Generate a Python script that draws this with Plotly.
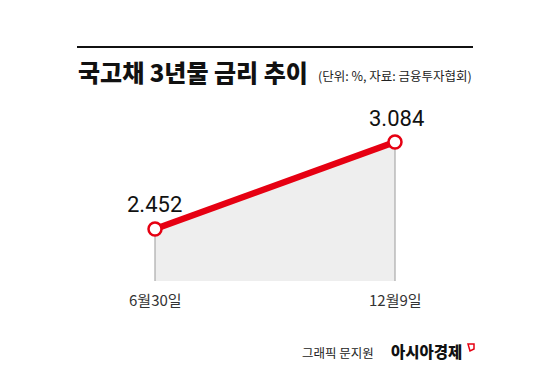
import plotly.graph_objects as go

dates = ["6월30일", "12월9일"]
rates = [2.452, 3.084]
value_labels = ["2.452", "3.084"]

title_text = "국고채 3년물 금리 추이"
subtitle_text = "(단위: %, 자료: 금융투자협회)"
credit_text = "그래픽 문지원"
brand_text = "아시아경제"

RED = "#e60012"
W, H = 550, 389
# plot area in pixels
L, R, T, B = 77, 473, 100, 281

xs = list(range(len(dates)))

x_per = (395 - 155) / (xs[1] - xs[0])
xmin = xs[0] - (155 - L) / x_per
xmax = xs[1] + (R - 395) / x_per
y_per = (229 - 142) / (rates[1] - rates[0])
ymin = rates[0] - (B - 229) / y_per
ymax = rates[0] + (229 - T) / y_per


def px(x, y):
    """pixel position -> paper coordinates"""
    return (x - L) / (R - L), (B - y) / (B - T)


fig = go.Figure()
# filled area
fig.add_trace(go.Scatter(
    x=xs, y=rates, mode="lines", fill="tozeroy",
    fillcolor="#eeeeee", line=dict(color="rgba(0,0,0,0)", width=0),
    hoverinfo="skip", showlegend=False))
# vertical drop lines
fig.add_trace(go.Scatter(
    x=xs, y=rates, mode="markers",
    marker=dict(size=1, color="rgba(0,0,0,0)"),
    error_y=dict(type="data", symmetric=False, array=[0] * len(rates),
                 arrayminus=[r - ymin for r in rates],
                 color="#aaaaaa", thickness=1.2, width=0),
    hoverinfo="skip", showlegend=False))
# red line with markers
fig.add_trace(go.Scatter(
    x=xs, y=rates, mode="lines+markers",
    line=dict(color=RED, width=6.5),
    marker=dict(size=13, color="white", line=dict(color=RED, width=2.5)),
    showlegend=False))

num_font = dict(family="Liberation Sans Narrow, Roboto, Arial", size=22, color="#111111")
fig.add_annotation(x=xs[0], y=rates[0], text=value_labels[0], showarrow=False,
                   xanchor="center", yanchor="bottom", xshift=-1, yshift=10, font=num_font)
fig.add_annotation(x=xs[1], y=rates[1], text=value_labels[1], showarrow=False,
                   xanchor="center", yanchor="bottom", xshift=1, yshift=9, font=num_font)

for xi, d in zip(xs, dates):
    fig.add_annotation(x=xi, y=0, yref="paper", text=d, showarrow=False,
                       xanchor="center", yanchor="top", yshift=-6,
                       font=dict(family="Noto Sans CJK KR", size=15, color="#333333"))

x0, y0 = px(77, 47)
x1, _ = px(473, 47)
fig.add_shape(type="line", xref="paper", yref="paper",
              x0=x0, x1=x1, y0=y0, y1=y0,
              line=dict(color="#111111", width=2))

tx, ty = px(76, 71)
fig.add_annotation(xref="paper", yref="paper", x=tx, y=ty, text=title_text,
                   showarrow=False, xanchor="left", yanchor="middle",
                   font=dict(family="Noto Sans CJK KR", size=24, color="#111111", weight=900))
sx, sy = px(474, 75)
fig.add_annotation(xref="paper", yref="paper", x=sx, y=sy, text=subtitle_text,
                   showarrow=False, xanchor="right", yanchor="middle",
                   font=dict(family="Noto Sans CJK KR", size=12.5, color="#222222"))

cx, cy = px(376, 352)
fig.add_annotation(xref="paper", yref="paper", x=cx, y=cy, text=credit_text,
                   showarrow=False, xanchor="right", yanchor="middle",
                   font=dict(family="Noto Sans CJK KR", size=12.5, color="#222222"))
bx, by = px(464, 351)
fig.add_annotation(xref="paper", yref="paper", x=bx, y=by, text=brand_text,
                   showarrow=False, xanchor="right", yanchor="middle",
                   font=dict(family="Noto Sans CJK KR", size=15.5, color="#111111", weight=900))
# small red logo mark
fig.add_shape(type="path", xref="paper", yref="paper",
              path="M {} {} L {} {} L {} {} L {} {} Z".format(
                  *px(468, 344), *px(474, 344), *px(474, 349), *px(470, 351)),
              line=dict(color=RED, width=1.5), fillcolor="rgba(0,0,0,0)")

fig.update_xaxes(range=[xmin, xmax], visible=False, fixedrange=True)
fig.update_yaxes(range=[ymin, ymax], visible=False, fixedrange=True)
fig.update_layout(
    width=W, height=H,
    margin=dict(l=L, r=W - R, t=T, b=H - B),
    paper_bgcolor="white", plot_bgcolor="white",
    showlegend=False,
)
fig.write_html("out.html", post_script="document.body.style.margin='0';",
               config={"displayModeBar": False})
